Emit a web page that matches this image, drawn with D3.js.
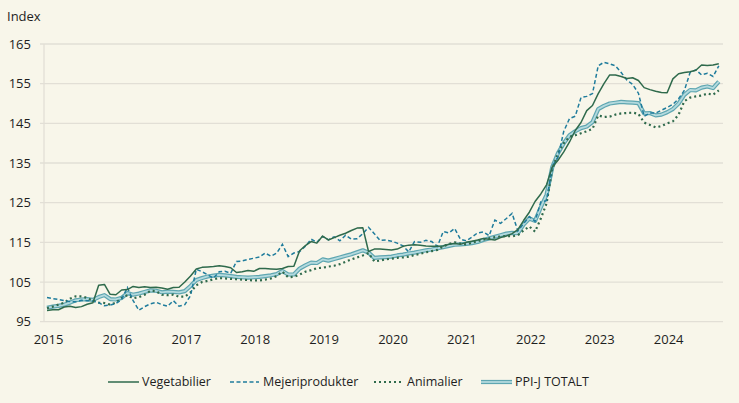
<!DOCTYPE html>
<html><head><meta charset="utf-8">
<script src="https://cdn.jsdelivr.net/npm/d3@7"></script>
<style>
html,body{margin:0;padding:0;background:#f8f6ea;}
text{font-family:"Open Sans","Noto Sans",sans-serif;fill:#1e1e1e;}
</style></head>
<body>
<svg id="c" width="739" height="403"></svg>
<script>
// Monthly index values, Jan 2015 – Oct 2024
const tickYears = ["2015","2016","2017","2018","2019","2020","2021","2022","2023","2024"];
const yTicks = [95,105,115,125,135,145,155,165];

const vegetabilier = [
97.8,98.0,98.0,98.7,98.9,98.6,98.8,99.4,99.8,104.2,104.4,101.9,
101.8,103.0,103.1,103.9,103.6,103.8,103.6,103.7,103.5,103.2,103.6,103.7,
105.0,106.5,108.3,108.7,108.8,108.9,109.1,108.9,108.6,107.4,107.6,107.9,
107.7,108.4,108.4,108.3,108.2,108.4,108.9,109.0,112.9,114.2,115.2,114.8,
116.6,115.6,116.2,116.8,117.3,118.0,118.6,118.7,112.7,113.3,113.3,113.2,
113.1,113.3,114.0,114.3,114.4,114.3,114.1,114.0,114.0,114.1,114.5,114.7,
114.5,115.0,115.3,115.6,116.0,115.8,115.6,116.2,116.6,117.2,118.2,120.5,
122.6,125.3,127.2,129.5,134.0,135.7,137.8,140.3,143.2,145.2,148.2,149.5,
152.5,155.0,157.2,157.2,156.8,156.3,156.5,155.8,154.0,153.5,153.1,152.8,
152.7,156.2,157.5,157.8,158.0,158.4,159.7,159.6,159.7,160.0];

const mejeriprodukter = [
101.1,100.8,100.6,100.3,100.1,100.0,100.4,100.3,100.2,99.8,99.0,99.2,
99.6,100.6,103.6,100.3,97.9,98.8,99.5,99.9,99.3,98.9,100.3,98.9,
99.3,101.6,108.2,107.6,106.8,106.0,107.6,107.7,107.2,110.2,110.3,110.7,
111.0,111.3,112.3,111.5,112.3,114.5,111.4,112.3,112.7,114.0,115.8,115.0,
116.5,115.6,116.4,115.4,116.8,115.8,115.9,117.2,118.8,117.2,115.5,115.6,
115.3,114.8,114.1,112.6,115.2,115.0,115.5,115.2,114.0,117.7,117.4,118.5,
115.8,115.4,116.3,117.4,117.6,116.7,120.6,119.8,121.0,122.3,117.9,119.7,
121.5,120.3,125.2,125.5,134.2,136.5,143.0,146.2,146.8,151.5,151.8,152.5,
159.5,160.4,160.0,159.5,157.8,155.9,154.8,152.6,146.8,147.6,147.6,148.3,
149.0,149.8,151.2,153.3,157.8,158.5,157.2,157.6,156.8,159.5];

const animalier = [
98.4,98.8,99.3,99.8,100.8,101.4,101.4,101.0,100.3,99.8,99.7,99.3,
99.8,101.0,101.7,100.9,101.2,101.8,102.8,102.7,101.8,101.7,101.8,101.3,
101.3,102.4,104.2,105.0,105.3,105.7,106.0,105.9,105.8,105.7,105.6,105.5,
105.4,105.4,105.6,105.9,106.5,107.6,106.2,106.3,106.9,107.6,108.0,108.5,
108.6,108.9,109.1,109.5,110.1,110.7,111.2,111.7,112.3,110.2,110.4,110.7,
110.9,111.1,111.2,111.4,111.8,112.1,112.5,112.8,113.1,114.0,114.6,115.0,
114.7,114.5,114.9,115.3,115.7,116.0,116.3,116.5,116.6,116.5,116.8,118.0,
119.0,117.7,121.0,124.8,133.5,137.5,140.0,141.6,142.0,142.5,143.0,143.6,
147.0,146.6,146.7,147.2,147.5,147.6,147.7,147.4,145.2,144.6,144.0,144.3,
145.0,145.5,147.2,150.6,151.5,151.8,152.0,152.5,152.2,153.3];

const ppiTotalt = [
98.5,98.8,99.0,99.3,99.8,100.4,100.6,100.7,100.5,101.2,101.7,100.7,
100.6,101.0,102.2,101.8,102.1,102.5,102.9,102.8,102.4,102.6,102.5,102.4,
102.7,104.0,105.5,106.0,106.4,106.6,106.8,106.7,106.5,106.3,106.2,106.1,
106.2,106.3,106.5,106.7,107.0,107.8,106.9,106.9,108.4,109.2,109.9,109.8,
110.7,110.4,110.8,111.2,111.6,112.0,112.5,113.0,112.4,111.1,111.2,111.3,
111.4,111.7,111.9,112.2,112.4,112.7,113.0,113.2,113.5,113.8,114.1,114.4,
114.5,114.6,114.8,115.1,115.6,116.0,116.4,116.8,117.2,117.4,117.3,119.5,
121.0,120.4,123.8,127.0,134.0,137.5,140.0,142.0,143.0,143.8,144.2,145.3,
148.6,149.4,150.0,150.2,150.4,150.3,150.2,150.1,147.5,147.6,147.0,147.2,
147.8,148.6,150.0,152.2,153.4,153.3,154.0,154.3,153.9,155.5];

const seriesNames = ["Vegetabilier","Mejeriprodukter","Animalier","PPI-J TOTALT"];

const svg = d3.select("#c");
const plotLeft = 44, plotRight = 723, plotTop = 44, plotBottom = 321.7;

const x = d3.scaleLinear().domain([0, vegetabilier.length - 1]).range([47, 718.8]);
const y = d3.scaleLinear().domain([95, 165]).range([plotBottom, plotTop]);

// grid
const gridG = svg.append("g");
gridG.selectAll("line.g").data(yTicks).enter().append("line")
  .attr("x1", 40).attr("x2", plotRight)
  .attr("y1", d => y(d)).attr("y2", d => y(d))
  .attr("stroke", "#e2dfd6").attr("stroke-width", 1.3);
gridG.append("line").attr("x1", plotLeft).attr("x2", plotLeft)
  .attr("y1", y(165)).attr("y2", y(95)).attr("stroke", "#e2dfd6").attr("stroke-width", 1.3);

// y axis labels
const yAxis = d3.axisLeft(y).tickValues(yTicks).tickSize(0).tickPadding(0);
const yg = svg.append("g").attr("transform", "translate(31,0)").call(yAxis);
yg.select(".domain").remove();
yg.selectAll("text").attr("font-size", 13).attr("fill", "#1e1e1e")
  .style("font-family", '"Open Sans","Noto Sans",sans-serif');

svg.append("text").attr("x", 7).attr("y", 21).attr("font-size", 13).text("Index");

// x axis labels
const xAxis = d3.axisBottom(x).tickValues(tickYears.map((d, i) => i * 12))
  .tickFormat((d, i) => tickYears[i]).tickSize(0).tickPadding(0);
const xg = svg.append("g").attr("transform", "translate(1,335)").call(xAxis);
xg.select(".domain").remove();
xg.selectAll("text").attr("font-size", 13).attr("fill", "#1e1e1e")
  .style("font-family", '"Open Sans","Noto Sans",sans-serif');

const line = d3.line().x((d, i) => x(i)).y(d => y(d));

// Total (double line style)
svg.append("path").datum(ppiTotalt).attr("d", line).attr("fill", "none")
  .attr("stroke", "#5ea6b1").attr("stroke-width", 4.2).attr("stroke-linejoin", "round");
svg.append("path").datum(ppiTotalt).attr("d", line).attr("fill", "none")
  .attr("stroke", "#b4dade").attr("stroke-width", 1.8).attr("stroke-linejoin", "round");
// Animalier dotted
svg.append("path").datum(animalier).attr("d", line).attr("fill", "none")
  .attr("stroke", "#2f6a4c").attr("stroke-width", 2.2).attr("stroke-dasharray", "2,3");
// Mejeri dashed
svg.append("path").datum(mejeriprodukter).attr("d", line).attr("fill", "none")
  .attr("stroke", "#1f7c9c").attr("stroke-width", 1.5).attr("stroke-dasharray", "4,2.5");
// Vegetabilier
svg.append("path").datum(vegetabilier).attr("d", line).attr("fill", "none")
  .attr("stroke", "#2f6a4c").attr("stroke-width", 1.5).attr("stroke-linejoin", "round");

// legend
const leg = [
  {name: seriesNames[0], x1: 108, x2: 139, tx: 142, style: "solid"},
  {name: seriesNames[1], x1: 230, x2: 259, tx: 263, style: "dash"},
  {name: seriesNames[2], x1: 374, x2: 402, tx: 407, style: "dot"},
  {name: seriesNames[3], x1: 481, x2: 512, tx: 515, style: "total"}
];
const ly = 382;
leg.forEach(l => {
  if (l.style === "total") {
    svg.append("line").attr("x1", l.x1).attr("x2", l.x2).attr("y1", ly).attr("y2", ly)
      .attr("stroke", "#5ea6b1").attr("stroke-width", 4.2);
    svg.append("line").attr("x1", l.x1).attr("x2", l.x2).attr("y1", ly).attr("y2", ly)
      .attr("stroke", "#b4dade").attr("stroke-width", 1.8);
  } else {
    const ln = svg.append("line").attr("x1", l.x1).attr("x2", l.x2).attr("y1", ly).attr("y2", ly);
    if (l.style === "solid") ln.attr("stroke", "#2f6a4c").attr("stroke-width", 1.5);
    if (l.style === "dash") ln.attr("stroke", "#1f7c9c").attr("stroke-width", 1.5).attr("stroke-dasharray", "4,2.5");
    if (l.style === "dot") ln.attr("stroke", "#2f6a4c").attr("stroke-width", 2.2).attr("stroke-dasharray", "2,3");
  }
  svg.append("text").attr("x", l.tx).attr("y", ly).attr("dy", "0.35em")
    .attr("font-size", 12.5).text(l.name);
});
</script>
</body></html>
